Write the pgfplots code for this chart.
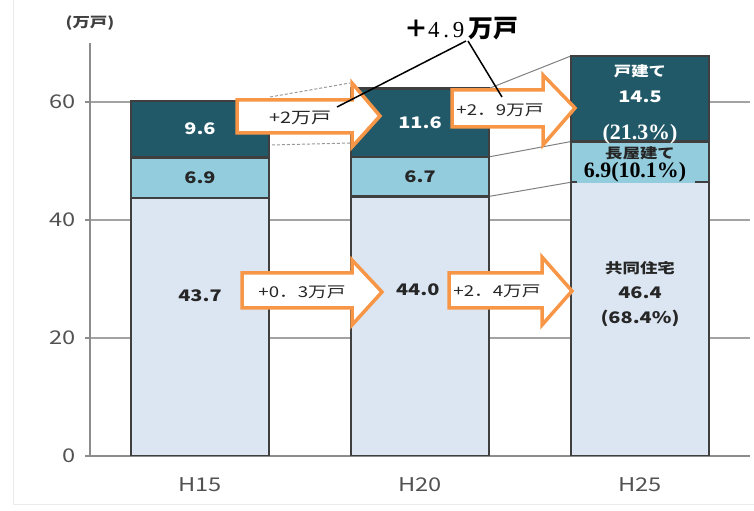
\documentclass[border=0pt]{standalone}
\usepackage{pgfplots}
\pgfplotsset{compat=1.18}
\usepackage{fontspec}
\setmainfont{Noto Sans CJK JP}[FakeStretch=1.25]
\newfontfamily\plainjp{Noto Sans CJK JP}
\newfontfamily\serifnum{Liberation Serif}
\definecolor{topc}{HTML}{215968}
\definecolor{midc}{HTML}{93CDDD}
\definecolor{botc}{HTML}{DCE6F2}
\definecolor{edgec}{HTML}{3F3F3F}
\definecolor{arrc}{HTML}{F79646}
\definecolor{axc}{HTML}{8C8C8C}
\newcommand\fs[1]{\fontsize{#1}{#1}\selectfont}
% block arrow: left, head base, tip, body top, body bottom, head top, head bottom, tip y
\newcommand\blockarrow[8]{%
  \draw[arrc, line width=3.5bp, fill=white, line join=miter]
    (#1,#4) -- (#2,#4) -- (#2,#6) -- (#3,#8) -- (#2,#7) -- (#2,#5) -- (#1,#5) -- cycle;}
\begin{document}
\begin{tikzpicture}
\useasboundingbox (0,0) rectangle (754bp,511bp);
\begin{axis}[
    at={(90bp,55bp)}, anchor=south west,
    scale only axis, width=660bp, height=413bp,
    ybar stacked, bar width=138bp,
    xmin=-0.5, xmax=2.5, ymin=0, ymax=70,
    axis x line=bottom, axis y line=left,
    axis line style={axc, line width=1.2bp, -},
    xtick={0,1,2}, xticklabels={H15,H20,H25},
    ytick={0,20,40,60},
    tick align=outside, major tick length=5bp,
    xtick style={draw=none}, ytick style={axc, line width=1.2bp},
    ymajorgrids, grid style={axc!80, line width=1.2bp},
    tick label style={font=\fs{19}, text=black!68},
    xticklabel style={yshift=-13bp},
    yticklabel style={xshift=-6bp},
    /pgf/number format/assume math mode=true,
    every axis plot/.append style={draw=edgec, line width=2.5bp},
]
\addplot[fill=botc] coordinates {(0,43.7) (1,44.0) (2,46.4)};
\addplot[fill=midc] coordinates {(0,6.9) (1,6.7) (2,6.9)};
\addplot[fill=topc] coordinates {(0,9.6) (1,11.6) (2,14.5)};
% series lines H20 -> H25
\draw[gray, line width=1bp] (axis cs:1.314,44.0) -- (axis cs:1.686,46.4);
\draw[gray, line width=1bp] (axis cs:1.314,50.7) -- (axis cs:1.686,53.3);
\draw[gray, line width=1bp] (axis cs:1.314,62.3) -- (axis cs:1.686,67.8);
% x tick marks between categories
\draw[axc, line width=1.2bp] (axis cs:0.5,0) -- ++(0,-7bp);
\draw[axc, line width=1.2bp] (axis cs:1.5,0) -- ++(0,-7bp);
\draw[axc, line width=1.2bp] (axis cs:2.5,0) -- ++(0,-7bp);
% label anchors
\coordinate (a1) at (axis cs:0,55.4);
\coordinate (a2) at (axis cs:0,47.15);
\coordinate (a3) at (axis cs:0,27.2);
\coordinate (b1) at (axis cs:1,56.5);
\coordinate (b2) at (axis cs:1,47.35);
\coordinate (b3) at (axis cs:0.99,28.2);
\coordinate (c0) at (axis cs:2,65.2);
\coordinate (c1) at (axis cs:2,60.9);
\coordinate (cp) at (axis cs:2,54.6);
\coordinate (c2) at (axis cs:2,51.3);
\coordinate (cn) at (axis cs:2,31.9);
\coordinate (c3) at (axis cs:2,27.6);
\coordinate (c4) at (axis cs:2,23.4);
\end{axis}
% value labels
\node[white, font=\fs{16}\bfseries] at (a1) {9.6};
\node[black!85, font=\fs{16}\bfseries] at (a2) {6.9};
\node[black!85, font=\fs{16}\bfseries] at (a3) {43.7};
\node[white, font=\fs{16}\bfseries] at (b1) {11.6};
\node[black!85, font=\fs{16}\bfseries] at (b2) {6.7};
\node[black!85, font=\fs{16}\bfseries] at (b3) {44.0};
\node[white, font=\fs{14}\bfseries] at (c0) {戸建て};
\node[white, font=\fs{16}\bfseries] at (c1) {14.5};
\node[white, font=\serifnum\fs{22}\bfseries] at (cp) {(21.3\%)};
\node[black!85, font=\fs{14}\bfseries] at (c2) {長屋建て};
\node[black!85, font=\fs{14}\bfseries] at (cn) {共同住宅};
\node[black!85, font=\fs{16}\bfseries] at (c3) {46.4};
\node[black!85, font=\fs{16}\bfseries] at (c4) {(68.4\%)};
\begin{scope}[x=1bp, y=-1bp, yshift=511bp]
% faint frame
\draw[black!8, line width=1bp] (13,0) -- (13,505) -- (754,505);
% unit label
\node[black!75, font=\fs{14}\bfseries] at (90,23) {(万戸)};
% faint lines H15 -> H20
\draw[gray!80, line width=1bp, dash pattern=on 3bp off 2bp] (270,97) -- (350,83);
\draw[gray!80, line width=1bp, dash pattern=on 3bp off 2bp] (272,145) -- (350,143);
% arrows
\blockarrow{237}{352}{380}{100}{133}{83}{147}{116}
\blockarrow{452}{543}{575}{90}{127}{75}{145}{108}
\blockarrow{242}{352}{382}{273}{308}{260}{325}{292}
\blockarrow{449}{542}{572}{273}{308}{257}{325}{291}
\node[font=\fs{16}, text=black!85] at (300,118) {+2万戸};
\node[font=\fs{15}, text=black!85] at (500,110) {+2．9万戸};
\node[font=\fs{15}, text=black!85] at (302,292) {+0．3万戸};
\node[font=\fs{15}, text=black!85] at (497,291) {+2．4万戸};
% 6.9 (10.1%) box
\fill[midc] (577,163) rectangle (695,183);
\node[font=\serifnum\fs{22}\bfseries] at (635,172) {6.9(10.1\%)};
% total increase
\draw[black, line width=1.5bp] (466,41) -- (337,107);
\draw[black, line width=1.5bp] (468,41) -- (502,97);
\node[anchor=base west, inner sep=0] at (404,38)
  {{\plainjp\fs{24}\bfseries ＋}{\serifnum\fs{23}4\,.\,9\,}{\plainjp\fs{25}\bfseries 万戸}};
\end{scope}
\end{tikzpicture}
\end{document}
